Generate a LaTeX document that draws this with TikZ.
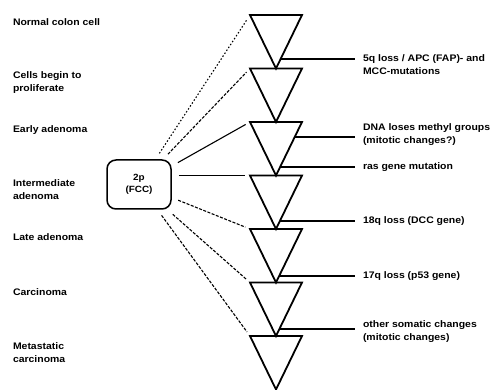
\documentclass[tikz,border=0pt]{standalone}
\usepackage{fontspec}
\setmainfont{Liberation Sans}[FakeStretch=1.1]
\usetikzlibrary{calc}
\begin{document}
\begin{tikzpicture}[x=1pt,y=-1pt,
  lbl/.style={anchor=west,inner sep=0pt,outer sep=0pt,align=left,font=\fontsize{9.5}{12.5}\selectfont\bfseries},
  tri/.style={line width=1.8pt,line join=miter},
  mline/.style={line width=1.3pt,shorten >=8pt},
  fan/.style={line width=1.1pt,shorten <=7pt,shorten >=5pt},
  fandash/.style={fan,dash pattern=on 3pt off 1.5pt},
  fandot/.style={fan,dash pattern=on 1.5pt off 2pt},
  boxst/.style={draw,line width=1.5pt,rounded corners=9pt,minimum width=64pt,minimum height=49pt,inner sep=0pt,align=center,font=\fontsize{9}{12}\selectfont\bfseries}]
\useasboundingbox (0,0) rectangle (495,390);
% triangles
\foreach \i in {0,...,6}{
  \pgfmathsetmacro\yt{15+53.5*\i}
  \coordinate (tl\i) at (250,\yt);
  \coordinate (tr\i) at (302,\yt);
  \coordinate (ap\i) at (276,\yt+53.5);
  \draw[tri] (tl\i) -- (tr\i) -- (ap\i) -- cycle;
}
% left labels
\node[lbl] (l0) at (13,22) {Normal colon cell};
\node[lbl] (l1) at (13,82.5) {Cells begin to\\proliferate};
\node[lbl] (l2) at (13,130) {Early adenoma};
\node[lbl] (l3) at (13,189.5) {Intermediate\\adenoma};
\node[lbl] (l4) at (13,237) {Late adenoma};
\node[lbl] (l5) at (13,292) {Carcinoma};
\node[lbl] (l6) at (13,352.5) {Metastatic\\carcinoma};
% box
\node[boxst] (box) at (139,184.5) {2p\\(FCC)};
% fan lines
\draw[fandot] (box) -- (tl0);
\draw[fandash] (box) -- (tl1);
\draw[fan] (box) -- (tl2);
\draw[fan] (box.east |- tl3) -- (tl3);
\draw[fandash] (box) -- (tl4);
\draw[fandash] (box) -- (tl5);
\draw[fandash] (box) -- (tl6);
% right labels
\node[lbl] (m1) at (363,64.5) {5q loss / APC (FAP)- and\\MCC-mutations};
\node[lbl] (m2) at (363,134.5) {DNA loses methyl groups\\(mitotic changes?)};
\node[lbl] (m3) at (363,167) {ras gene mutation};
\node[lbl] (m4) at (363,221) {18q loss (DCC gene)};
\node[lbl] (m5) at (363,276) {17q loss (p53 gene)};
\node[lbl] (m6) at (363,331.5) {other somatic changes\\(mitotic changes)};
% right connectors
\coordinate (e1) at ($(tr0)!0.82!(ap0)$);
\coordinate (e2) at ($(tr2)!0.28!(ap2)$);
\coordinate (e3) at ($(tr2)!0.84!(ap2)$);
\coordinate (e4) at ($(tr3)!0.85!(ap3)$);
\coordinate (e5) at ($(tr4)!0.88!(ap4)$);
\coordinate (e6) at ($(tr5)!0.87!(ap5)$);
\draw[mline] (e1) -- (e1 -| m1.west);
\draw[mline] (e2) -- (e2 -| m2.west);
\draw[mline] (e3) -- (e3 -| m3.west);
\draw[mline] (e4) -- (e4 -| m4.west);
\draw[mline] (e5) -- (e5 -| m5.west);
\draw[mline] (e6) -- (e6 -| m6.west);
\end{tikzpicture}
\end{document}
